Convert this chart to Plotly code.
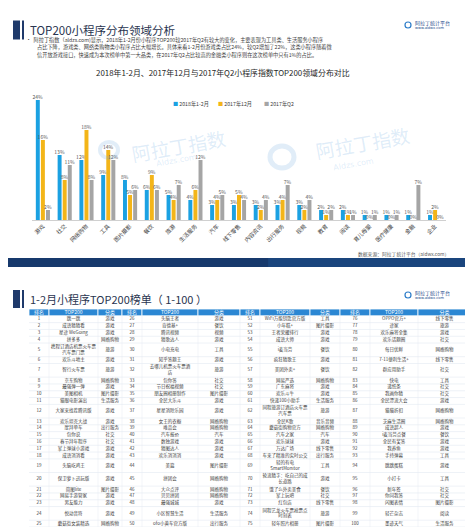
import plotly.graph_objects as go

W, H = 473, 527

# ---------------- bar chart data ----------------
categories = ["游戏", "社交", "网络购物", "工具", "图片摄影", "餐饮", "旅游", "生活服务", "汽车",
              "线下零售", "内容资讯", "出行服务", "视频", "教育", "阅读", "育儿母婴", "医疗健康",
              "金融", "企业"]
s_2018_jan_feb = [24, 13, 12, 9, 8, 6, 5, 4, 3, 3, 3, 3, 3, 2, 2, 1, 1, 1, 1]
s_2017_dec = [16, 8, 18, 14, 5, 9, 4, 6, 4, 5, 2, 4, 2, 1, 1, 0, 0, 0, 2]
s_2017_q2 = [2, 11, 8, 12, 6, 6, 7, 12, 5, 4, 4, 7, 4, 2, 1, 1, 1, 7, 0]
series_names = ["2018年1-2月", "2017年12月", "2017年Q2"]
series_colors = ["#1ba1e2", "#f3b519", "#a5a5a5"]

# ---------------- table data ----------------
table_header = ["排名", "TOP200", "分类"] * 4
ranks = [str(i) for i in range(1, 101)]
app_names = [
    # 1-25
    "跳一跳", "成语猜猜看", "星途 WeGoing", "拼多多", "携程订酒店机票火车票<br>汽车票门票",
    "欢乐斗地主", "智行火车票", "京东购物", "最强弹一弹", "美图相机", "猫眼电影演出",
    "大家来找茬腾讯版", "欢乐坦克大战", "摩拜单车", "包你说", "春节拜年程序", "掌上弹球小游戏",
    "成语消消看", "头脑吃鸡王", "保卫萝卜迅玩版", "简图lite", "网易手游管家", "男友能力",
    "悦动音符", "蘑菇街女装精选",
    # 26-50
    "头脑王者", "肯德基+", "腾讯视频", "猜歌达人", "小电充电", "知乎答题王",
    "去哪儿机票火车票酒<br>店", "包你答", "节日祝福视频", "朋友圈相册制作", "全民大乐斗",
    "星星消除乐园", "女王的衣橱", "唯品会", "汽车报价", "数独游戏", "猜图达人", "欢乐消消消",
    "美篇", "拼团会", "大众点评", "贝贝拼团", "最强城城", "小区智慧生活", "ofo小黄车官方版",
    # 51-75
    "WiFi万能钥匙官方版", "小年糕+", "王者荣耀排行", "成语大师", "i麦当劳", "疯狂猜歌王",
    "美团外卖+", "网易严选", "广东麻将", "欢乐斗牛", "快递100小助手",
    "同程旅游订酒店火车票<br>汽车票", "全民K歌", "蘑菇街购物官方", "汽车之家", "欢乐球球",
    "万达广场", "车来了精准的实时公交", "轻的有电<br>SmartMonitor", "轮流猜字：吃自己的成<br>长道路",
    "饿了么外卖美食", "掌上玩吧", "红包店", "同程艺龙火车票抢票点<br>时刻表", "轻年照片相册",
    # 76-100
    "OPPO官方+", "途家", "欢乐麻将全集", "欢乐话题圈", "每日优鲜", "7-11便利生活+", "群应用助手",
    "快电", "递纸条", "我画你猜", "全民漂流大会", "猫猫折扣", "芝麻生活圈", "成语超人",
    "i麦当劳点餐", "全民有奖答", "我养鱼", "手持弹幕", "跳跳蛋糕", "小打卡", "新年签",
    "你问我答", "闪图表情", "轻芒杂志", "墨迹天气",
]
app_categories = [
    # 1-25
    "游戏", "游戏", "游戏", "网络购物", "旅游", "游戏", "旅游", "网络购物", "游戏", "图片摄影",
    "生活服务", "游戏", "游戏", "出行服务", "社交", "社交", "游戏", "游戏", "游戏", "游戏",
    "图片摄影", "游戏", "游戏", "游戏", "网络购物",
    # 26-50
    "游戏", "餐饮", "视频", "游戏", "工具", "游戏", "旅游", "社交", "社交", "图片摄影",
    "游戏", "游戏", "网络购物", "网络购物", "汽车", "游戏", "游戏", "游戏", "图片摄影",
    "网络购物", "网络购物", "网络购物", "游戏", "生活服务", "出行服务",
    # 51-75
    "工具", "图片摄影", "游戏", "游戏", "餐饮", "游戏", "餐饮", "网络购物", "游戏", "游戏",
    "生活服务", "旅游", "音乐音频", "网络购物", "汽车", "游戏", "线下零售", "出行服务", "工具",
    "游戏", "餐饮", "社交", "线下零售", "旅游", "图片摄影",
    # 76-100
    "线下零售", "旅游", "游戏", "社交", "网络购物", "线下零售", "社交", "工具", "社交", "社交",
    "游戏", "网络购物", "网络购物", "游戏", "餐饮", "游戏", "游戏", "工具", "游戏", "工具",
    "社交", "社交", "图片摄影", "阅读", "生活服务",
]

# ---------------- text ----------------
slide1_title = "TOP200小程序分布领域分析"
slide2_title = "1-2月小程序TOP200榜单（ 1-100 ）"
bullet_lines = [
    "•  阿拉丁指数（aldzs.com)显示，2018年1-2月份小程序TOP200较2017年Q2有较大的变化，主要表现为工具类、生活服务小程序",
    "占比下降，游戏类、网络类购物类小程序占比大幅增长。具体来看1-2月份游戏类占比24%，较Q2增加了22%，这类小程序随着微",
    "信开放游戏接口，快速成为本次榜单中第一大品类，在2017年Q2占比较高的金融类小程序则在这次榜单中只有1%的占比。",
]
chart_title = "2018年1-2月、2017年12月与2017年Q2小程序指数TOP200领域分布对比"
source_note = "数据来源：阿拉丁统计平台（aldwx.com）"

FONT = "Noto Sans CJK SC"


def px(p):
    return p / W


def py(p):
    return 1 - p / H


fig = go.Figure()

# ---------------- bars ----------------
for name, vals, col in zip(series_names, [s_2018_jan_feb, s_2017_dec, s_2017_q2], series_colors):
    fig.add_trace(go.Bar(
        x=categories, y=vals, name=name, marker=dict(color=col, line=dict(width=0)),
        text=[f"{v}%" for v in vals], textposition="outside", constraintext="none",
        textfont=dict(size=5, color="#595959", family=FONT), cliponaxis=False,
        showlegend=False, hoverinfo="skip",
    ))

# ---------------- table (text marks on a hidden axis pair) ----------------
col_widths = [20, 49, 24, 20, 56, 42, 20, 50, 30, 30, 48, 53]
col_left = [sum(col_widths[:i]) for i in range(len(col_widths))]
col_center = [l + w / 2 for l, w in zip(col_left, col_widths)]
total_w = sum(col_widths)

n_rows = 25
row_units = []
for r in range(n_rows):
    row_units.append(max(app_names[g * 25 + r].count("<br>") + 1 for g in range(4)))
header_units = 1
row_top = []
acc = header_units
for u in row_units:
    row_top.append(acc)
    acc += u
total_units = acc
row_center = [t + u / 2 for t, u in zip(row_top, row_units)]

shapes = []
# header cells
for c in range(12):
    shapes.append(dict(type="rect", xref="x2", yref="y2", x0=col_left[c], x1=col_left[c] + col_widths[c],
                       y0=0, y1=header_units, fillcolor="#2b87d3", line=dict(color="white", width=0.8),
                       layer="below"))
# horizontal row lines
for t in row_top[1:] + [total_units]:
    shapes.append(dict(type="line", xref="x2", yref="y2", x0=0, x1=total_w, y0=t, y1=t,
                       line=dict(color="#dde4ee", width=0.5), layer="below"))
# vertical column lines
for c in range(1, 12):
    shapes.append(dict(type="line", xref="x2", yref="y2", x0=col_left[c], x1=col_left[c],
                       y0=header_units, y1=total_units, line=dict(color="#e6ebf2", width=0.5),
                       layer="below"))

fig.add_trace(go.Scatter(
    x=col_center, y=[header_units / 2] * 12, text=table_header, mode="text",
    textposition="middle center", textfont=dict(size=5, color="white", family=FONT),
    xaxis="x2", yaxis="y2", showlegend=False, hoverinfo="skip", cliponaxis=False,
))
tx, ty, tt = [], [], []
for g in range(4):
    for r in range(n_rows):
        i = g * 25 + r
        for k, val in enumerate([ranks[i], app_names[i], app_categories[i]]):
            tx.append(col_center[g * 3 + k])
            ty.append(row_center[r])
            tt.append(val)
fig.add_trace(go.Scatter(
    x=tx, y=ty, text=tt, mode="text", textposition="middle center",
    textfont=dict(size=4.5, color="#404040", family=FONT),
    xaxis="x2", yaxis="y2", showlegend=False, hoverinfo="skip", cliponaxis=False,
))

shapes += [
    # slide 1 title markers
    dict(type="rect", xref="paper", yref="paper", x0=px(5), x1=px(12), y0=py(31.5), y1=py(12.5),
         fillcolor="#1f3a6b", line=dict(width=0)),
    dict(type="rect", xref="paper", yref="paper", x0=px(14), x1=px(16), y0=py(31.5), y1=py(12.5),
         fillcolor="#1f3a6b", line=dict(width=0)),
    # slide 1 bottom band
    dict(type="rect", xref="paper", yref="paper", x0=0, x1=1, y0=py(259), y1=py(250),
         fillcolor="#17396c", line=dict(width=0)),
    dict(type="rect", xref="paper", yref="paper", x0=0.55, x1=1, y0=py(259), y1=py(250),
         fillcolor="#1d4a85", line=dict(width=0), opacity=0.7),
    # slide 2 title markers
    dict(type="rect", xref="paper", yref="paper", x0=px(5), x1=px(12), y0=py(300), y1=py(282),
         fillcolor="#1f3a6b", line=dict(width=0)),
    dict(type="rect", xref="paper", yref="paper", x0=px(14), x1=px(16), y0=py(300), y1=py(282),
         fillcolor="#1f3a6b", line=dict(width=0)),
    # slide 2 bottom band
    dict(type="rect", xref="paper", yref="paper", x0=0, x1=1, y0=0, y1=py(519),
         fillcolor="#17396c", line=dict(width=0)),
    dict(type="rect", xref="paper", yref="paper", x0=0.55, x1=1, y0=0, y1=py(519),
         fillcolor="#1d4a85", line=dict(width=0), opacity=0.7),
    # logo rings
    dict(type="circle", xref="paper", yref="paper", x0=px(397), x1=px(403), y0=py(20), y1=py(14),
         line=dict(color="#2c7cc9", width=1.2)),
    dict(type="circle", xref="paper", yref="paper", x0=px(397), x1=px(403), y0=py(290), y1=py(284),
         line=dict(color="#2c7cc9", width=1.2)),
    # watermark rings
    dict(type="circle", xref="paper", yref="paper", x0=px(92), x1=px(110), y0=py(150), y1=py(134),
         line=dict(color="rgba(120,175,225,0.22)", width=4)),
    dict(type="circle", xref="paper", yref="paper", x0=px(262), x1=px(286), y0=py(160), y1=py(138),
         line=dict(color="rgba(120,175,225,0.22)", width=5)),
]

annotations = [
    dict(text=slide1_title, x=px(20), y=py(22), xanchor="left", yanchor="middle",
         font=dict(size=11.5, color="#2a3550", family=FONT)),
    dict(text=chart_title, x=px(215), y=py(64), xanchor="center", yanchor="middle",
         font=dict(size=7.9, color="#262626", family=FONT)),
    dict(text=source_note, x=px(443), y=py(246), xanchor="right", yanchor="middle",
         font=dict(size=4.8, color="#595959", family=FONT)),
    dict(text=slide2_title, x=px(20), y=py(291), xanchor="left", yanchor="middle",
         font=dict(size=11, color="#2a3550", family=FONT)),
]
# watermarks
for wx, wy, sx, sy in [(170, 137, 168, 152), (354, 134, 345, 156)]:
    annotations.append(dict(text="阿拉丁指数", x=px(wx), y=py(wy), xanchor="center", yanchor="middle",
                            textangle=-10, font=dict(size=19, color="rgba(110,170,225,0.22)", family=FONT)))
    annotations.append(dict(text="Aldzs.com", x=px(sx), y=py(sy), xanchor="center", yanchor="middle",
                            textangle=-10, font=dict(size=8, color="rgba(110,170,225,0.22)",
                                                     family="DejaVu Sans")))
for lg_x, lg_y in [(405, 15), (405, 285)]:
    annotations.append(dict(text="阿拉丁统计平台", x=px(lg_x), y=py(lg_y), xanchor="left",
                            yanchor="middle", font=dict(size=5, color="#1f4e8c", family=FONT)))
    annotations.append(dict(text="www.aldwx.com", x=px(lg_x), y=py(lg_y + 5), xanchor="left",
                            yanchor="middle", font=dict(size=3.6, color="#1f4e8c", family="DejaVu Sans")))

line_x = [16, 27, 27]
line_y = [31.5, 39, 46.5]
for txt, lx, ly in zip(bullet_lines, line_x, line_y):
    annotations.append(dict(text=txt, x=px(lx), y=py(ly), xanchor="left", yanchor="middle",
                            font=dict(size=5.2, color="#404040", family=FONT)))

legend_x = [163, 208, 254]
for name, col, lx in zip(series_names, series_colors, legend_x):
    annotations.append(dict(text=f"<span style='color:{col}'>■</span> {name}", x=px(lx), y=py(96),
                            xanchor="left", yanchor="middle",
                            font=dict(size=5.2, color="#404040", family=FONT)))

for a in annotations:
    a.setdefault("xref", "paper")
    a.setdefault("yref", "paper")
    a.setdefault("showarrow", False)

fig.update_layout(
    width=W, height=H, margin=dict(l=0, r=0, t=0, b=0),
    paper_bgcolor="white", plot_bgcolor="rgba(0,0,0,0)",
    barmode="group", bargap=0.3, bargroupgap=0.22,
    font=dict(family=FONT),
    xaxis=dict(domain=[px(24), px(438)], tickangle=-45, tickfont=dict(size=5.6, color="#404040"),
               showline=True, linecolor="#d0d0d0", linewidth=0.8, ticks="", showgrid=False,
               fixedrange=True),
    yaxis=dict(domain=[py(212), py(77)], range=[0, 27], visible=False, showgrid=False,
               fixedrange=True),
    xaxis2=dict(domain=[px(21), px(463)], range=[0, total_w], visible=False, anchor="y2",
                fixedrange=True),
    yaxis2=dict(domain=[py(519), py(301)], range=[total_units, 0], visible=False, anchor="x2",
                fixedrange=True),
    shapes=shapes, annotations=annotations, showlegend=False,
)

fig.write_html("out.html")
